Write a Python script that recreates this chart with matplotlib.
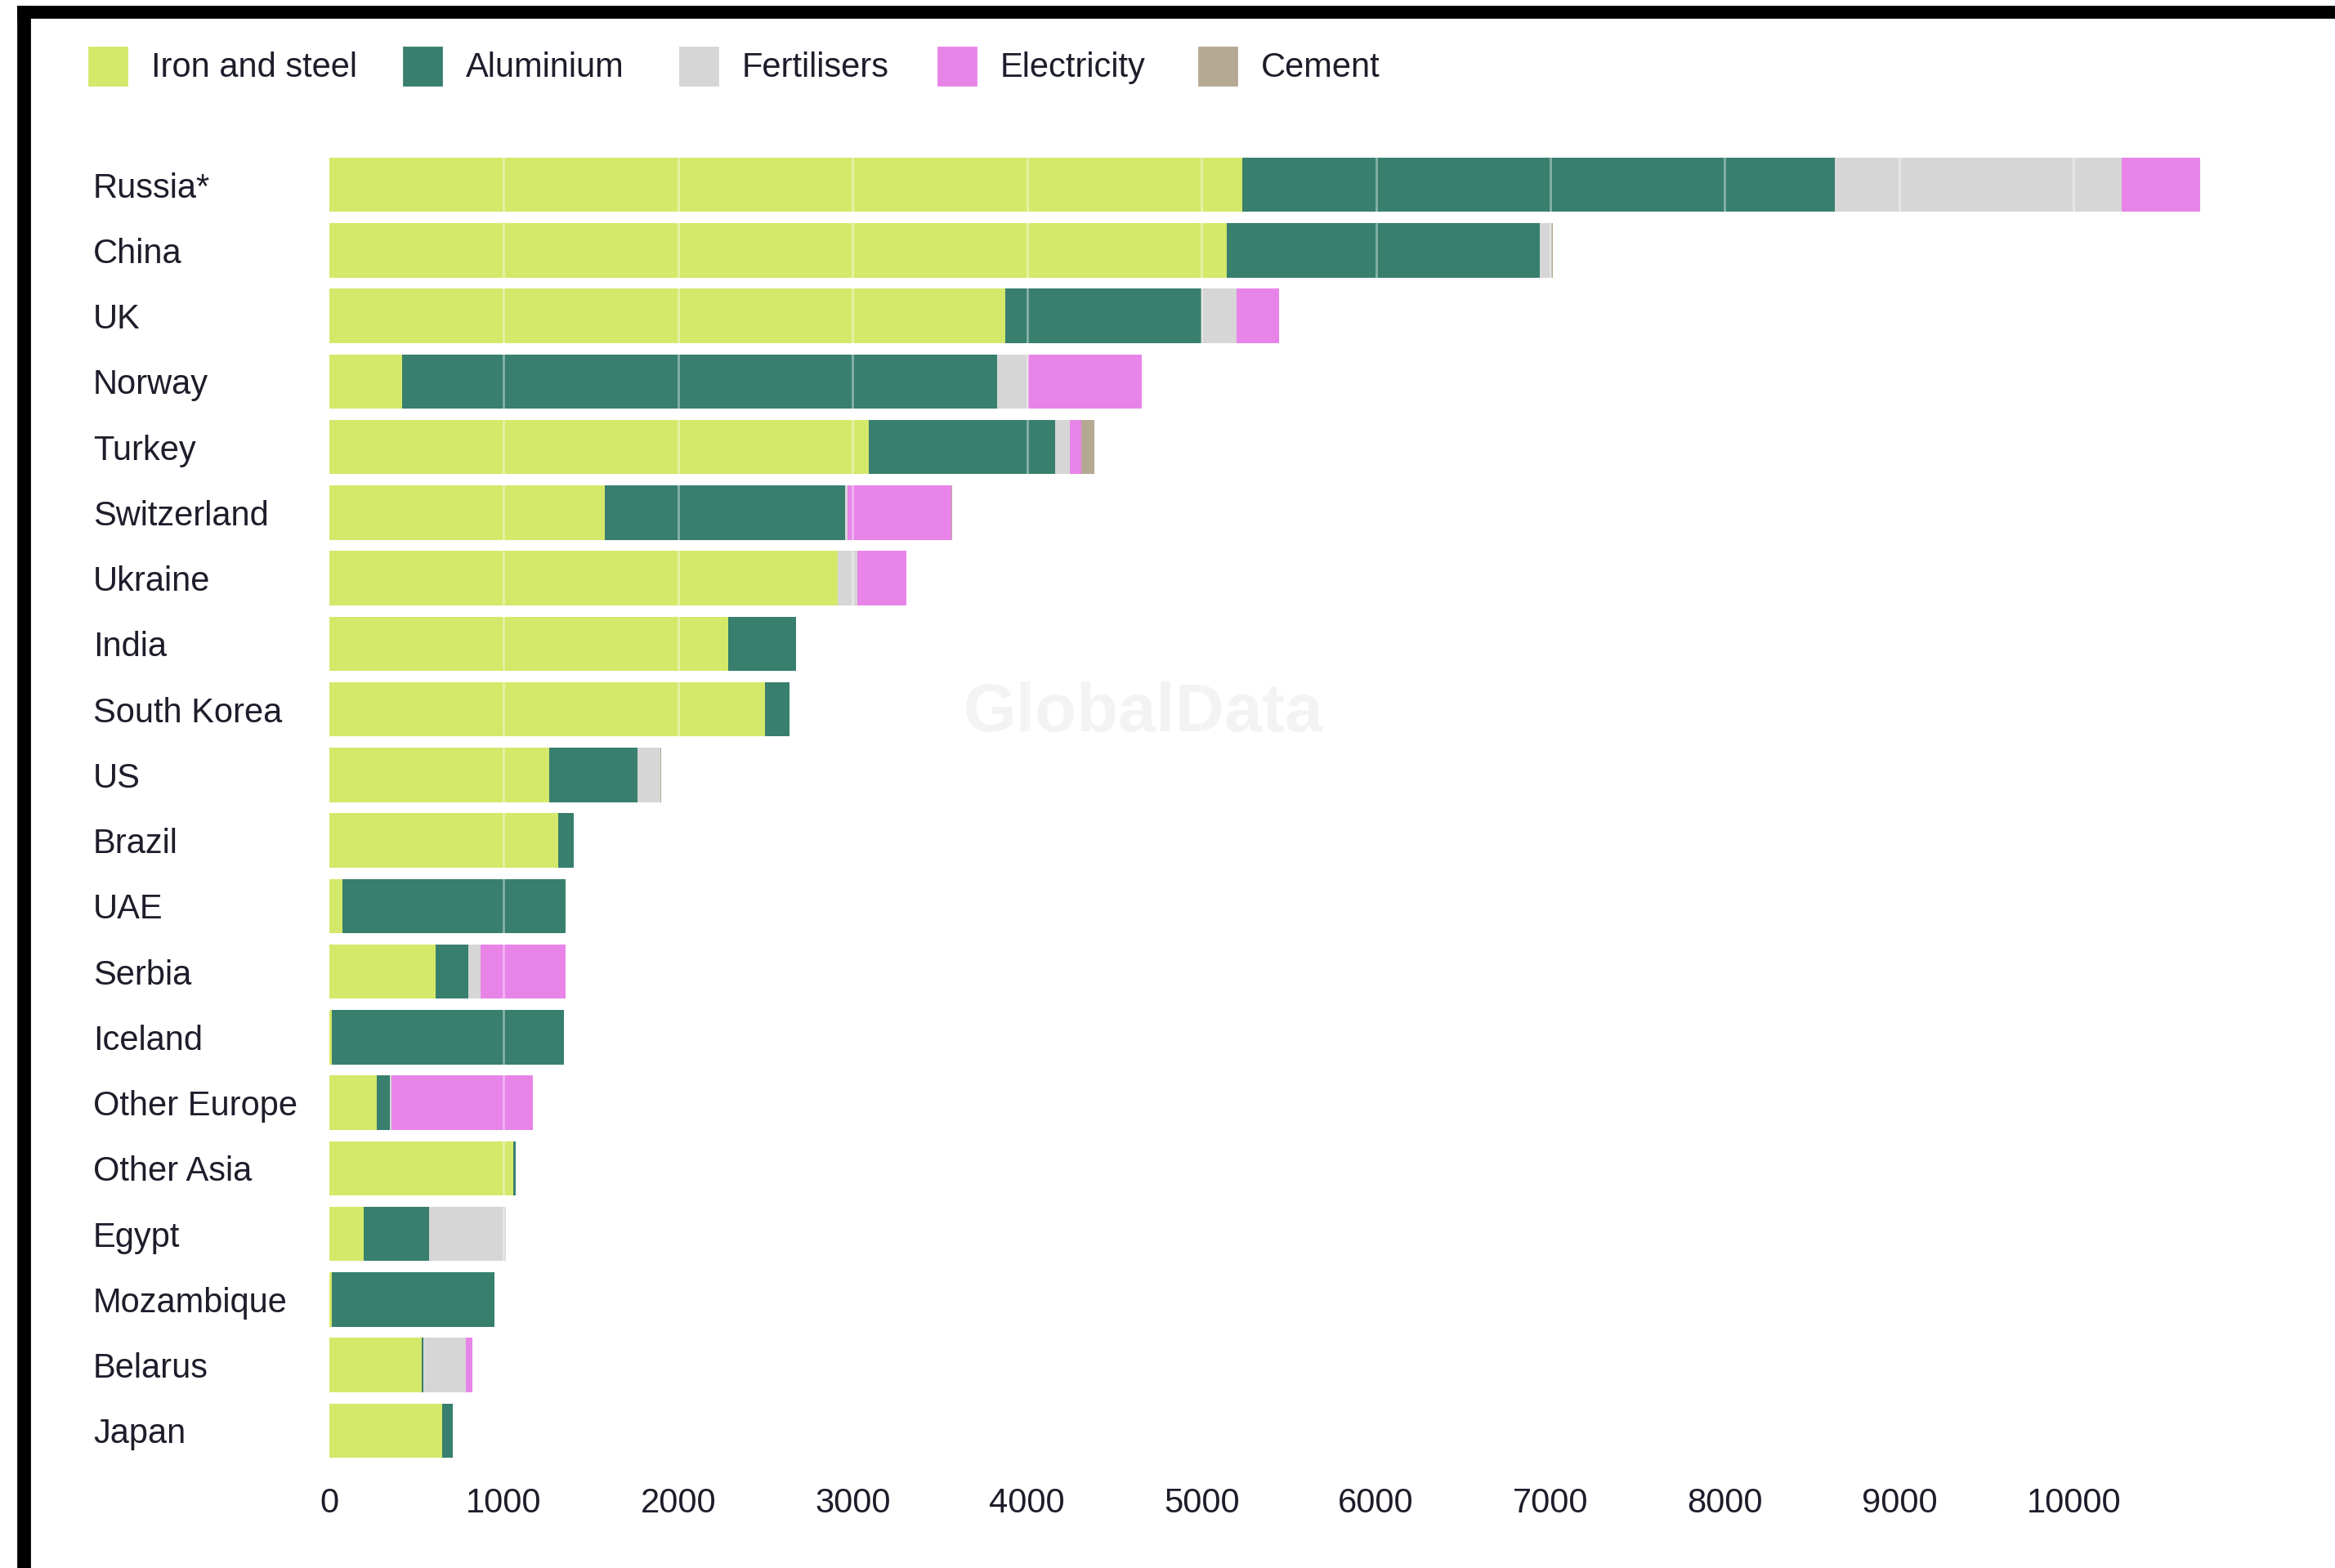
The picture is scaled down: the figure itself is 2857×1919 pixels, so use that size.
import numpy as np
import matplotlib
matplotlib.use("Agg")
import matplotlib.pyplot as plt
from matplotlib.patches import Rectangle

plt.rcParams['font.family'] = ['Liberation Sans', 'DejaVu Sans']

countries = ['Russia*', 'China', 'UK', 'Norway', 'Turkey', 'Switzerland', 'Ukraine',
             'India', 'South Korea', 'US', 'Brazil', 'UAE', 'Serbia', 'Iceland',
             'Other Europe', 'Other Asia', 'Egypt', 'Mozambique', 'Belarus', 'Japan']

iron_steel  = [5236, 5143, 3874, 418, 3092, 1577, 2916, 2285, 2496, 1259,
               1312, 77, 609, 13, 271, 1055, 196, 13, 531, 647]
aluminium   = [3394, 1796, 1126, 3410, 1071, 1381, 0, 389, 142, 508,
               90, 1277, 188, 1332, 75, 13, 376, 932, 9, 62]
fertilisers = [1645, 65, 201, 180, 80, 13, 109, 0, 0, 130,
               0, 0, 70, 0, 8, 0, 440, 0, 241, 0]
electricity = [448, 0, 243, 649, 67, 594, 285, 0, 0, 0,
               0, 0, 486, 0, 811, 0, 0, 0, 38, 0]
cement      = [0, 12, 0, 0, 75, 6, 0, 0, 0, 4,
               0, 0, 3, 0, 0, 0, 0, 0, 0, 0]

series_names = ['Iron and steel', 'Aluminium', 'Fertilisers', 'Electricity', 'Cement']
series = [iron_steel, aluminium, fertilisers, electricity, cement]
colors = ['#d4e86a', '#387f6e', '#d6d6d6', '#e884e8', '#b5a993']
xticks = [0, 1000, 2000, 3000, 4000, 5000, 6000, 7000, 8000, 9000, 10000]

text_color = '#1d1d2b'
W, H = 2857, 1919
fig = plt.figure(figsize=(W / 200, H / 200), dpi=200)
ax = fig.add_axes([403 / W, 1 - 1791 / H, (2708 - 403) / W, (1791 - 186) / H])

y = np.arange(len(countries))
left = np.zeros(len(countries))
for name, vals, c in zip(series_names, series, colors):
    vals = np.array(vals, dtype=float)
    ax.barh(y, vals, left=left, height=0.83, color=c, label=name, zorder=2)
    left += vals

ax.set_xlim(0, 10800)
ax.set_ylim(len(countries) - 0.5, -0.5)
ax.set_xticks(xticks)
ax.set_xticklabels([str(t) for t in xticks], fontsize=15, color=text_color)
ax.set_yticks(y)
ax.set_yticklabels(countries, fontsize=15, color=text_color, ha='left')
ax.tick_params(axis='y', length=0, pad=104)
ax.tick_params(axis='x', length=0, pad=10.5)
for s in ax.spines.values():
    s.set_visible(False)

# white grid lines drawn over the bars
for t in xticks[1:]:
    ax.axvline(t, color='white', alpha=0.4, lw=1.0, zorder=3)

# watermark
ax.text(0.432, 0.572, 'GlobalData', transform=ax.transAxes, fontsize=30,
        fontweight='bold', color='#f3f3f3', ha='center', va='center', zorder=1)

# legend, placed by hand
leg_x = [109, 494, 832, 1148, 1467]
for lx, name, c in zip(leg_x, series_names, colors):
    fig.patches.append(Rectangle((lx / W, 1 - 104 / H), 46 / W, 46 / H,
                                 transform=fig.transFigure, color=c))
    fig.text((lx + 76) / W, 1 - 83 / H, name, fontsize=15, color=text_color,
             va='center', ha='left')

# black screenshot frame on top and left
fig.patches.append(Rectangle((22 / W, 1 - 21 / H), 1 - 22 / W, 13 / H,
                             transform=fig.transFigure, color='black'))
fig.patches.append(Rectangle((22 / W, 0), 14 / W, 1 - 8 / H,
                             transform=fig.transFigure, color='black'))

fig.savefig('out.png', dpi=200, facecolor='white')
